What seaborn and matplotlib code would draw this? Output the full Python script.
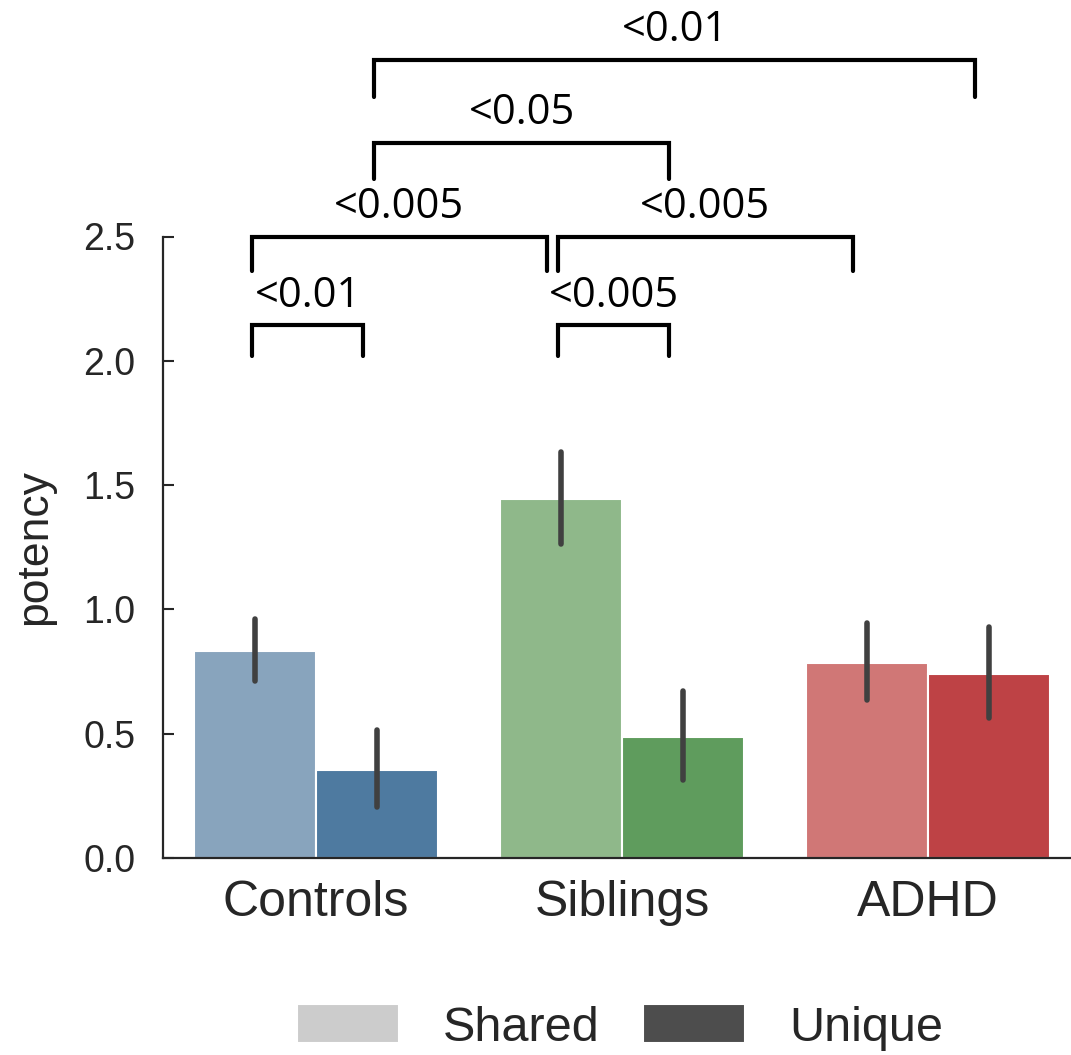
import pandas as pd
import matplotlib.pyplot as plt
import seaborn as sns

# valores
groups = ['Controls', 'Siblings', 'ADHD']
kinds = ['Shared', 'Unique']
shared_mean = [0.833, 1.443, 0.784]
unique_mean = [0.354, 0.488, 0.739]
shared_lo = [0.713, 1.262, 0.636]
shared_hi = [0.960, 1.632, 0.944]
unique_lo = [0.206, 0.314, 0.562]
unique_hi = [0.515, 0.673, 0.928]

shared_colors = ['#88A4BD', '#8FB88A', '#D07776']
unique_colors = ['#4E7AA0', '#5F9C5D', '#BE4245']

# comparaciones: (grupo, tipo) -> (grupo, tipo), base, techo, etiqueta
comp_a = [('Controls', 'Shared'), ('Controls', 'Shared'), ('Siblings', 'Shared'),
          ('Siblings', 'Shared'), ('Controls', 'Unique'), ('Controls', 'Unique')]
comp_b = [('Controls', 'Unique'), ('Siblings', 'Shared'), ('ADHD', 'Shared'),
          ('Siblings', 'Unique'), ('Siblings', 'Unique'), ('ADHD', 'Unique')]
comp_low = [2.02, 2.36, 2.36, 2.02, 2.73, 3.06]
comp_top = [2.143, 2.499, 2.499, 2.143, 2.877, 3.21]
comp_label = ['<0.01', '<0.005', '<0.005', '<0.005', '<0.05', '<0.01']

df = pd.DataFrame({
    'group': groups * 2,
    'kind': ['Shared'] * 3 + ['Unique'] * 3,
    'potency': shared_mean + unique_mean,
})

sns.set_style('white')
plt.rcParams['font.family'] = ['Liberation Sans', 'DejaVu Sans']

fig = plt.figure(figsize=(10.71, 10.55), dpi=100)
ax = fig.add_axes([163 / 1071, 1 - 858 / 1055, 918 / 1071, 621.5 / 1055])

sns.barplot(data=df, x='group', y='potency', hue='kind', order=groups,
            hue_order=kinds, palette=['#cccccc', '#4d4d4d'], errorbar=None,
            edgecolor='white', linewidth=1.5, ax=ax)

handles, labels = ax.get_legend_handles_labels()
ax.get_legend().remove()

# colores por grupo y barras de error
centers = {}
for k, (cont, cols, lo, hi) in enumerate(zip(ax.containers,
                                             [shared_colors, unique_colors],
                                             [shared_lo, unique_lo],
                                             [shared_hi, unique_hi])):
    for i, bar in enumerate(cont):
        bar.set_facecolor(cols[i])
        x = bar.get_x() + bar.get_width() / 2
        centers[(groups[i], kinds[k])] = x
        ax.plot([x, x], [lo[i], hi[i]], color='#404040', lw=4,
                solid_capstyle='round', zorder=5)

ax.set_xlim(-0.5, 2.5)
ax.set_ylim(0, 2.5)
ax.set_yticks([0, 0.5, 1.0, 1.5, 2.0, 2.5])
ax.set_yticklabels(['0.0', '0.5', '1.0', '1.5', '2.0', '2.5'])
ax.set_xlabel('')
ax.set_ylabel('potency', fontsize=32, labelpad=20, color='#262626')
ax.tick_params(axis='y', left=True, direction='in', length=8, width=1.5,
               pad=20, labelsize=27, colors='#262626')
ax.tick_params(axis='x', length=0, pad=16, labelsize=36, colors='#262626')
for s in ['top', 'right']:
    ax.spines[s].set_visible(False)
for s in ['left', 'bottom']:
    ax.spines[s].set_linewidth(1.6)
    ax.spines[s].set_color('#262626')

# corchetes de significancia
for a, b, lo, top, lab in zip(comp_a, comp_b, comp_low, comp_top, comp_label):
    x1 = centers[a] - 0.01
    x2 = centers[b] - 0.045
    ax.plot([x1, x1, x2, x2], [lo, top, top, lo], color='black', lw=3,
            clip_on=False, solid_joinstyle='miter')
    ax.text((x1 + x2) / 2, top + 0.035, lab, ha='center', va='bottom',
            fontsize=30, family=['Open Sans', 'DejaVu Sans'], color='black',
            clip_on=False)

fig.legend(handles, labels, loc='center', bbox_to_anchor=(0.579, 0.026),
           ncol=2, frameon=False, fontsize=35, handlelength=2.1,
           handleheight=0.85, handletextpad=0.9, columnspacing=0.9)

fig.savefig('out.png', dpi=100)
